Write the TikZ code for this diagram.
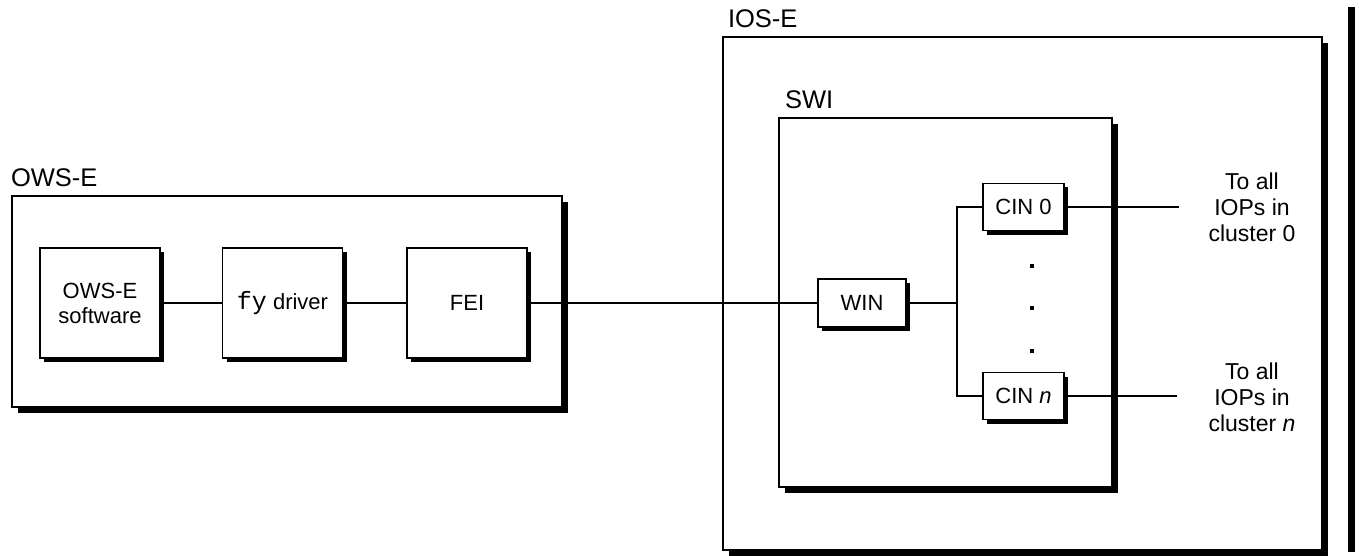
\documentclass[tikz,border=0pt]{standalone}
\usepackage{fontspec}
\setmainfont{Liberation Sans}
\newfontfamily\codefont{Liberation Mono}
\usetikzlibrary{shadows}
\begin{document}
\begin{tikzpicture}[x=1pt,y=-1pt,
  every node/.style={inner sep=0pt, outer sep=0pt},
  bigbox/.style={draw, line width=1.6pt, fill=white,
    drop shadow={shadow xshift=6pt, shadow yshift=-6pt, fill=black, opacity=1}},
  unit/.style={draw, line width=1.6pt, fill=white, align=center,
    font=\fontsize{22}{25}\selectfont,
    drop shadow={shadow xshift=4pt, shadow yshift=-4pt, fill=black, opacity=1}},
  grouplabel/.style={anchor=base west, font=\fontsize{25.5}{30}\selectfont},
  dest/.style={align=center, font=\fontsize{23}{26}\selectfont},
  wire/.style={line width=1.4pt},
  dot/.style={rectangle, fill=black, minimum size=4pt}]

\path[use as bounding box] (0,0) rectangle (1359,556);

% enclosing units
\node[bigbox, minimum width=599pt, minimum height=513pt] (ios) at (1022.5,293.5) {};
\node[bigbox, minimum width=333pt, minimum height=369pt] (swi) at (945.5,302.5) {};
\node[bigbox, minimum width=550pt, minimum height=211pt] (ows) at (287,301.5) {};

\node[grouplabel] (owslabel) at (11,186) {OWS-E};
\node[grouplabel] (ioslabel) at (728,28) {IOS-E};
\node[grouplabel] (swilabel) at (785,109) {SWI};

% workstation chain
\node[unit, minimum width=120pt, minimum height=110pt] (sw) at (100,303) {OWS-E\\software};
\node[unit, minimum width=120pt, minimum height=110pt] (fy) at (282.5,303) {{\codefont\fontsize{25}{25}\selectfont fy} driver};
\node[unit, minimum width=120pt, minimum height=110pt] (fei) at (467,303) {FEI};

% switch interfaces
\node[unit, minimum width=88pt, minimum height=48pt] (win) at (862,303) {WIN};
\node[unit, minimum width=81pt, minimum height=47pt] (cin0) at (1023.5,207) {CIN 0};
\node[unit, minimum width=81pt, minimum height=47pt] (cinn) at (1023.5,396) {CIN \textit{n}};

\coordinate (j) at (957,303);
\coordinate (out0) at (1179,207);
\coordinate (outn) at (1177,396);

% connections
\draw[wire] (sw) -- (fy);
\draw[wire] (fy) -- (fei);
\draw[wire] (fei) -- (win);
\draw[line width=2pt] (win) -- (j);
\draw[wire] (cin0.west) -| (j) |- (cinn.west);
\draw[wire] (cin0) -- (out0);
\draw[wire] (cinn) -- (outn);

% elided clusters
\node[dot] (d1) at (1032,266) {};
\node[dot] (d2) at (1032,308) {};
\node[dot] (d3) at (1032,351) {};

\node[dest] (dest0) at (1252,207) {To all\\IOPs in\\cluster 0};
\node[dest] (destn) at (1252,397) {To all\\IOPs in\\cluster \textit{n}};

% change bar
\draw[line width=7pt] (1351.5,7) -- (1351.5,552);
\end{tikzpicture}
\end{document}
